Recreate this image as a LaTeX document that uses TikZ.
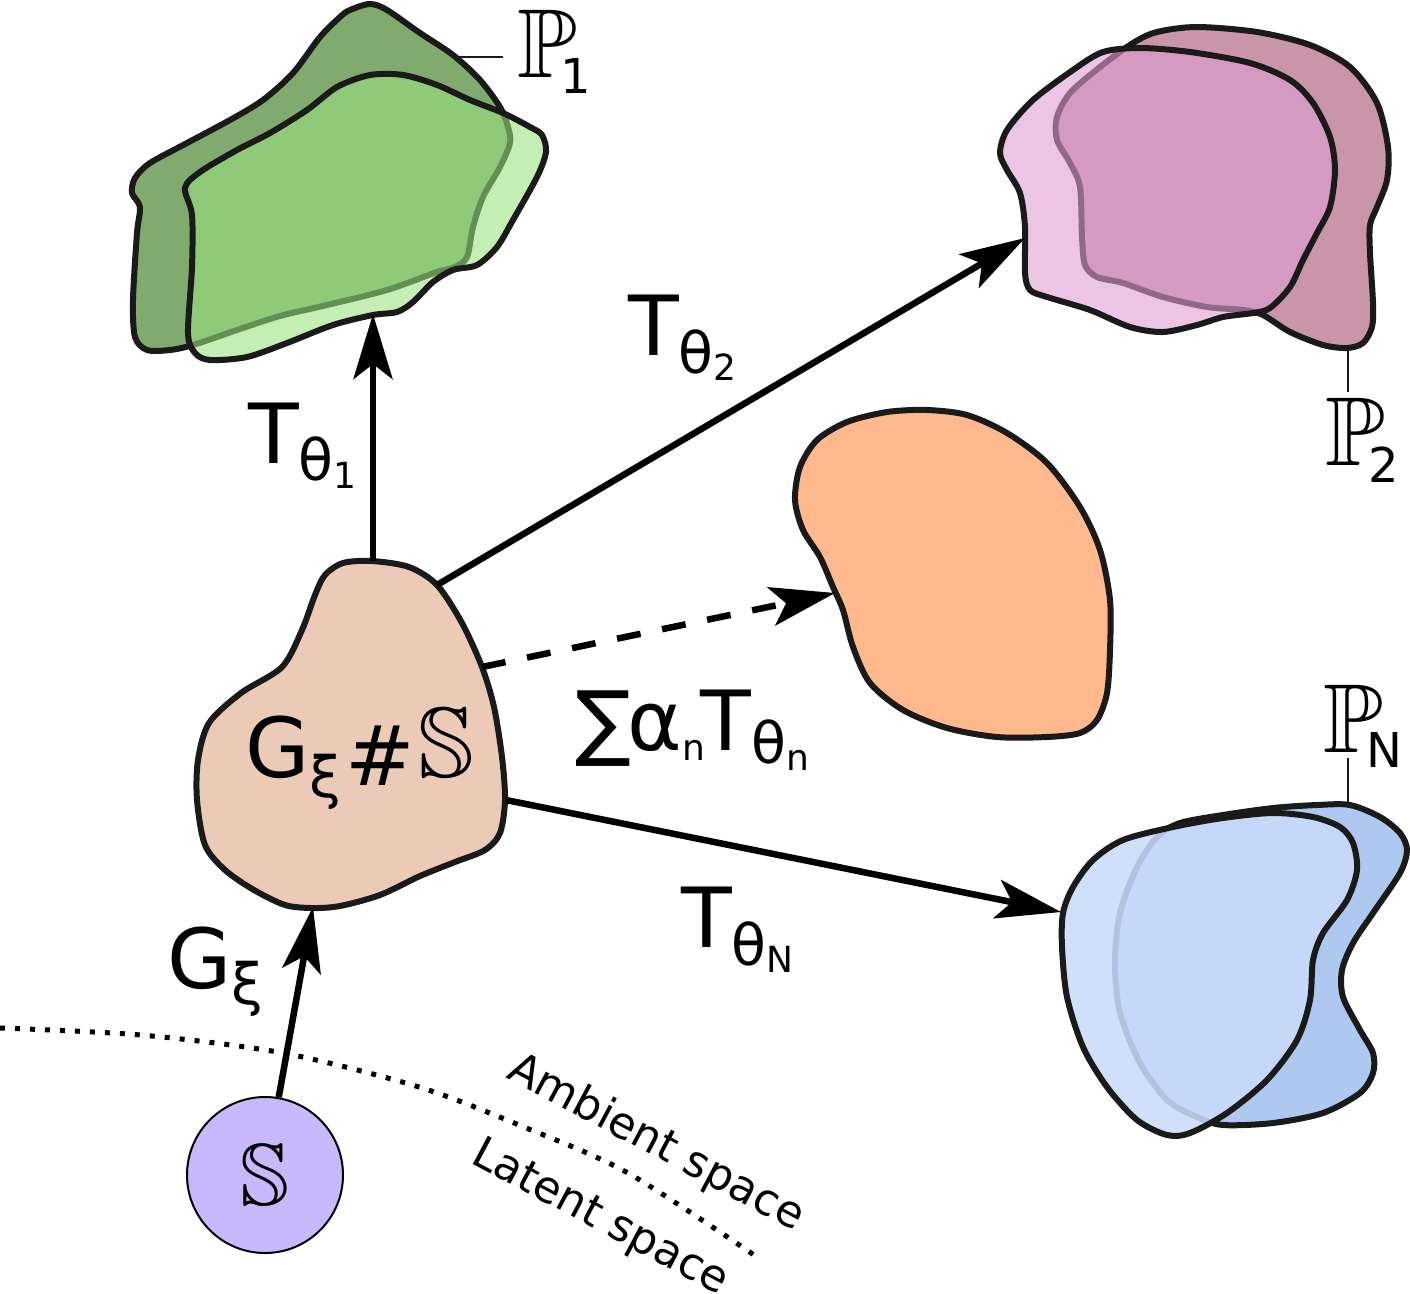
\documentclass[tikz,border=0pt]{standalone}
\usepackage{fontspec}
\setmainfont{DejaVu Sans}
\usetikzlibrary{arrows.meta}
\DeclareFontFamily{U}{mymsb}{}
\DeclareFontShape{U}{mymsb}{m}{n}{<-> msbm10}{}
\newcommand\bbf{\usefont{U}{mymsb}{m}{n}}
\newcommand\szA{\fontsize{83}{90}\selectfont}
\newcommand\szB{\fontsize{57}{60}\selectfont}
\newcommand\szC{\fontsize{36}{40}\selectfont}
\newcommand\szP{\fontsize{98}{100}\selectfont}
\newcommand\szPs{\fontsize{48}{50}\selectfont}
\definecolor{outl}{HTML}{1A1A1A}
\definecolor{blobC}{HTML}{EBCBB7}
\definecolor{orangeC}{HTML}{FFB98C}
\definecolor{circC}{HTML}{C8B8FC}
\definecolor{greenB}{HTML}{80AA6E}
\definecolor{greenF}{HTML}{99E27E}
\definecolor{pinkB}{HTML}{C896A8}
\definecolor{pinkF}{HTML}{DF9DD2}
\definecolor{blueB}{HTML}{AFC8F0}
\definecolor{blueF}{HTML}{C9DBFB}
\tikzset{
  blob/.style={draw=outl, line width=6pt, line join=round},
  conn/.style={line width=6.5pt, draw=black, -{Stealth[length=65pt,width=39pt,inset=15pt]}},
  lab/.style={inner sep=0pt, outer sep=0pt, anchor=base west},
  leader/.style={line width=2.5pt, draw=outl},
}
\begin{document}
\begin{tikzpicture}[x=1pt,y=-1pt]
\useasboundingbox (0,0) rectangle (1410,1293);
% dotted boundary
\draw[line width=5pt, dash pattern=on 5pt off 10pt] plot[smooth] coordinates {(0,1028) (141,1035) (283,1053) (419,1087) (524,1127) (628,1173) (757,1257)};
% green
\path[blob, fill=greenB] plot[smooth cycle] coordinates {(350,10) (370,4) (387,10) (420,33) (453,55) (480,80) (500,107) (508,127) (510,143) (500,167) (483,197) (473,227) (467,257) (455,267) (437,272) (387,290) (327,305) (280,316) (237,330) (193,345) (170,350) (147,350) (135,337) (133,300) (137,233) (140,207) (132,193) (135,178) (150,163) (187,143) (230,120) (263,100) (293,73) (320,37) (340,17)};
\path[blob, fill=greenF, fill opacity=0.58] plot[smooth cycle] coordinates {(185,188) (192,215) (192,267) (188,333) (195,353) (210,360) (247,357) (287,343) (333,325) (373,315) (397,312) (413,302) (433,282) (453,270) (477,265) (497,247) (513,220) (537,177) (546,152) (542,135) (530,127) (503,113) (470,100) (437,85) (403,75) (370,75) (337,87) (307,110) (270,133) (237,150) (200,172)};
% pink
\path[blob, fill=pinkB] plot[smooth cycle] coordinates {(1133,43) (1157,32) (1197,27) (1257,32) (1310,45) (1350,67) (1377,103) (1388,147) (1387,180) (1377,207) (1370,225) (1370,253) (1373,303) (1372,327) (1363,343) (1347,348) (1323,345) (1290,332) (1263,315) (1243,310) (1207,307) (1163,297) (1123,283) (1097,277) (1085,265) (1082,237) (1080,187) (1070,163) (1057,140) (1057,117) (1070,93) (1100,67)};
\path[blob, fill=pinkF, fill opacity=0.6] plot[smooth cycle] coordinates {(1000,153) (1007,130) (1033,100) (1073,70) (1103,52) (1140,48) (1190,52) (1250,63) (1290,80) (1313,103) (1330,137) (1335,170) (1330,207) (1317,233) (1303,260) (1290,287) (1270,308) (1253,313) (1223,317) (1197,325) (1163,332) (1130,327) (1090,310) (1047,297) (1030,290) (1025,273) (1025,227) (1020,193) (1007,170)};
% blue
\path[blob, fill=blueB] plot[smooth cycle] coordinates {(1180,823) (1223,815) (1273,808) (1317,805) (1350,805) (1380,817) (1400,833) (1407,850) (1400,873) (1373,913) (1353,943) (1342,970) (1343,997) (1360,1030) (1373,1053) (1373,1073) (1360,1093) (1323,1113) (1273,1123) (1223,1125) (1197,1117) (1167,1100) (1140,1063) (1120,1013) (1115,963) (1120,913) (1137,867) (1157,837)};
\path[blob, fill=blueF, fill opacity=0.875] plot[smooth cycle] coordinates {(1063,913) (1062,947) (1067,997) (1083,1047) (1107,1087) (1137,1120) (1167,1135) (1190,1133) (1227,1113) (1267,1080) (1297,1040) (1310,1000) (1313,960) (1323,933) (1347,900) (1357,870) (1353,843) (1340,827) (1313,817) (1273,813) (1223,818) (1173,827) (1123,840) (1093,860) (1073,887)};
% orange
\path[blob, fill=orangeC] plot[smooth cycle] coordinates {(795,500) (800,467) (817,440) (847,422) (887,412) (927,410) (967,415) (1007,433) (1047,463) (1080,507) (1100,550) (1110,600) (1110,650) (1107,693) (1097,720) (1080,733) (1047,737) (997,737) (947,728) (903,710) (870,683) (853,647) (843,610) (833,587) (820,557) (803,530)};
% central blob
\path[blob, fill=blobC] plot[smooth cycle] coordinates {(343,563) (372,561) (409,567) (437,585) (462,623) (482,667) (494,707) (502,757) (505,800) (500,833) (485,850) (455,862) (420,876) (380,895) (340,906) (312,908) (285,905) (254,890) (225,870) (205,845) (197,800) (198,760) (209,723) (241,693) (282,667) (302,630) (315,595) (325,575)};
% latent circle
\node[circle, draw=black, line width=2pt, fill=circC, minimum size=156pt, inner sep=0pt] (S) at (265,1175) {\fontsize{88}{90}\selectfont\bbf S};
% connector end points
\coordinate (c1s) at (373,561);
\coordinate (c1e) at (373,314);
\coordinate (c2s) at (437,585);
\coordinate (c2e) at (1025,238);
\coordinate (cds) at (482,667);
\coordinate (cde) at (835,593);
\coordinate (cNs) at (506,800);
\coordinate (cNe) at (1061,912);
\coordinate (cGe) at (313,907);
\draw[conn] (c1s) -- (c1e);
\draw[conn] (c2s) -- (c2e);
\draw[conn, dash pattern=on 24pt off 22pt] (cds) -- (cde);
\draw[conn] (cNs) -- (cNe);
\draw[conn] (S.80) -- (cGe);
% labels
\node[lab] (lt1) at (248,463) {\szA T\raisebox{-17pt}{\szB θ\raisebox{-8pt}{\szC 1}}};
\node[lab] (lt2) at (628,355) {\szA T\raisebox{-18pt}{\szB θ\raisebox{-7pt}{\szC 2}}};
\node[lab] (ltN) at (681,947) {\szA T\raisebox{-18pt}{\szB θ\raisebox{-7pt}{\szC N}}};
\node[lab] (lsum) at (575,750) {\szA ∑\kern-3pt α\raisebox{-10pt}{\szC n}\kern-5pt T\raisebox{-13pt}{\szB θ\raisebox{-7pt}{\szC n}}};
\node[lab] (lG) at (167,988) {\szA G\raisebox{-16pt}{\szB ξ}};
\node[lab] (lGS) at (245,777) {\szA G\raisebox{-20pt}{\szB ξ}\kern4pt\raisebox{-8pt}{\#}\kern4pt{\fontsize{100}{100}\selectfont\bbf S}};
% P labels
\node[lab] (P1) at (517,77) {{\szP\bbf P}\kern-16pt\raisebox{-16pt}{\szPs 1}};
\node[lab] (P2) at (1325,465) {{\szP\bbf P}\kern-16pt\raisebox{-17pt}{\szPs 2}};
\node[lab] (PN) at (1323,752) {{\szP\bbf P}\kern-16pt\raisebox{-15pt}{\szPs N}};
\coordinate (k1a) at (458,57); \coordinate (k1b) at (503,57);
\coordinate (k2a) at (1348,348); \coordinate (k2b) at (1348,392);
\coordinate (kNa) at (1348,758); \coordinate (kNb) at (1348,803);
\draw[leader] (k1a) -- (k1b);
\draw[leader] (k2a) -- (k2b);
\draw[leader] (kNa) -- (kNb);
% space labels
\node[lab, rotate=-28] (amb) at (505,1077) {\fontsize{44}{46}\selectfont Ambient space};
\node[lab, rotate=-28] (lat) at (469,1162) {\fontsize{44}{46}\selectfont Latent space};
\end{tikzpicture}
\end{document}
